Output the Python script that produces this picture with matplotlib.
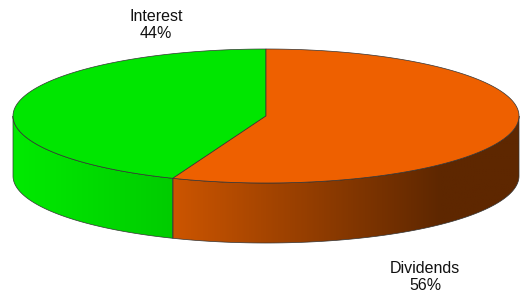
import numpy as np
import matplotlib.pyplot as plt
from matplotlib.patches import Polygon
from matplotlib.colors import to_rgb

# data
labels = ['Interest', 'Dividends']
values = [44, 56]

# styles
top_colors = ['#00e600', '#ee6000']
side_colors = [('#00ea00', '#00cc00'), ('#cc5500', '#5e2700')]

# ellipse geometry (pixels)
cx, cy, a, b, depth = 266, 116, 253, 67, 60

fig = plt.figure(figsize=(5.32, 3.06), dpi=100)
ax = fig.add_axes([0, 0, 1, 1])
ax.set_xlim(0, 532)
ax.set_ylim(306, 0)
ax.axis('off')


def pt(t, dy=0):
    r = np.radians(t)
    return cx + a * np.cos(r), cy - b * np.sin(r) + dy


total = sum(values)
start = 90.0
for i, v in enumerate(values):
    end = start + 360.0 * v / total
    # front side face
    s1, s2 = max(start, 180), min(end, 360)
    if s2 > s1:
        ts = np.linspace(s1, s2, 120)
        top = [pt(t) for t in ts]
        bot = [pt(t, depth) for t in ts[::-1]]
        side = Polygon(top + bot, closed=True, facecolor='none',
                       edgecolor='#333333', lw=0.5, zorder=3)
        ax.add_patch(side)
        x0, x1 = min(p[0] for p in top), max(p[0] for p in top)
        c0, c1 = np.array(to_rgb(side_colors[i][0])), np.array(to_rgb(side_colors[i][1]))
        xs = np.linspace(x0, x1, 300)
        frac = np.clip((xs - x0) / max(1, min(x1, 440) - x0), 0, 1)
        grad = c0[None, :] * (1 - frac[:, None]) + c1[None, :] * frac[:, None]
        img = ax.imshow(grad[None, :, :], extent=(x0, x1, cy + b + depth + 5, cy - 5),
                        aspect='auto', zorder=2, interpolation='bilinear')
        img.set_clip_path(side)
    # top face
    ts = np.linspace(start, end, 200)
    poly = [(cx, cy)] + [pt(t) for t in ts]
    ax.add_patch(Polygon(poly, closed=True, facecolor=top_colors[i],
                         edgecolor='#333333', lw=0.5, zorder=4))
    start = end

ax.set_xlim(0, 532)
ax.set_ylim(306, 0)

label_pos = [(156, 25), (425, 277)]
for i, (x, y) in enumerate(label_pos):
    ax.text(x, y, f'{labels[i]}\n{values[i]}%', ha='center', va='center',
            fontsize=11.5, family='Liberation Sans', linespacing=1.1, color='#111111')

fig.savefig('out.png', dpi=100)
